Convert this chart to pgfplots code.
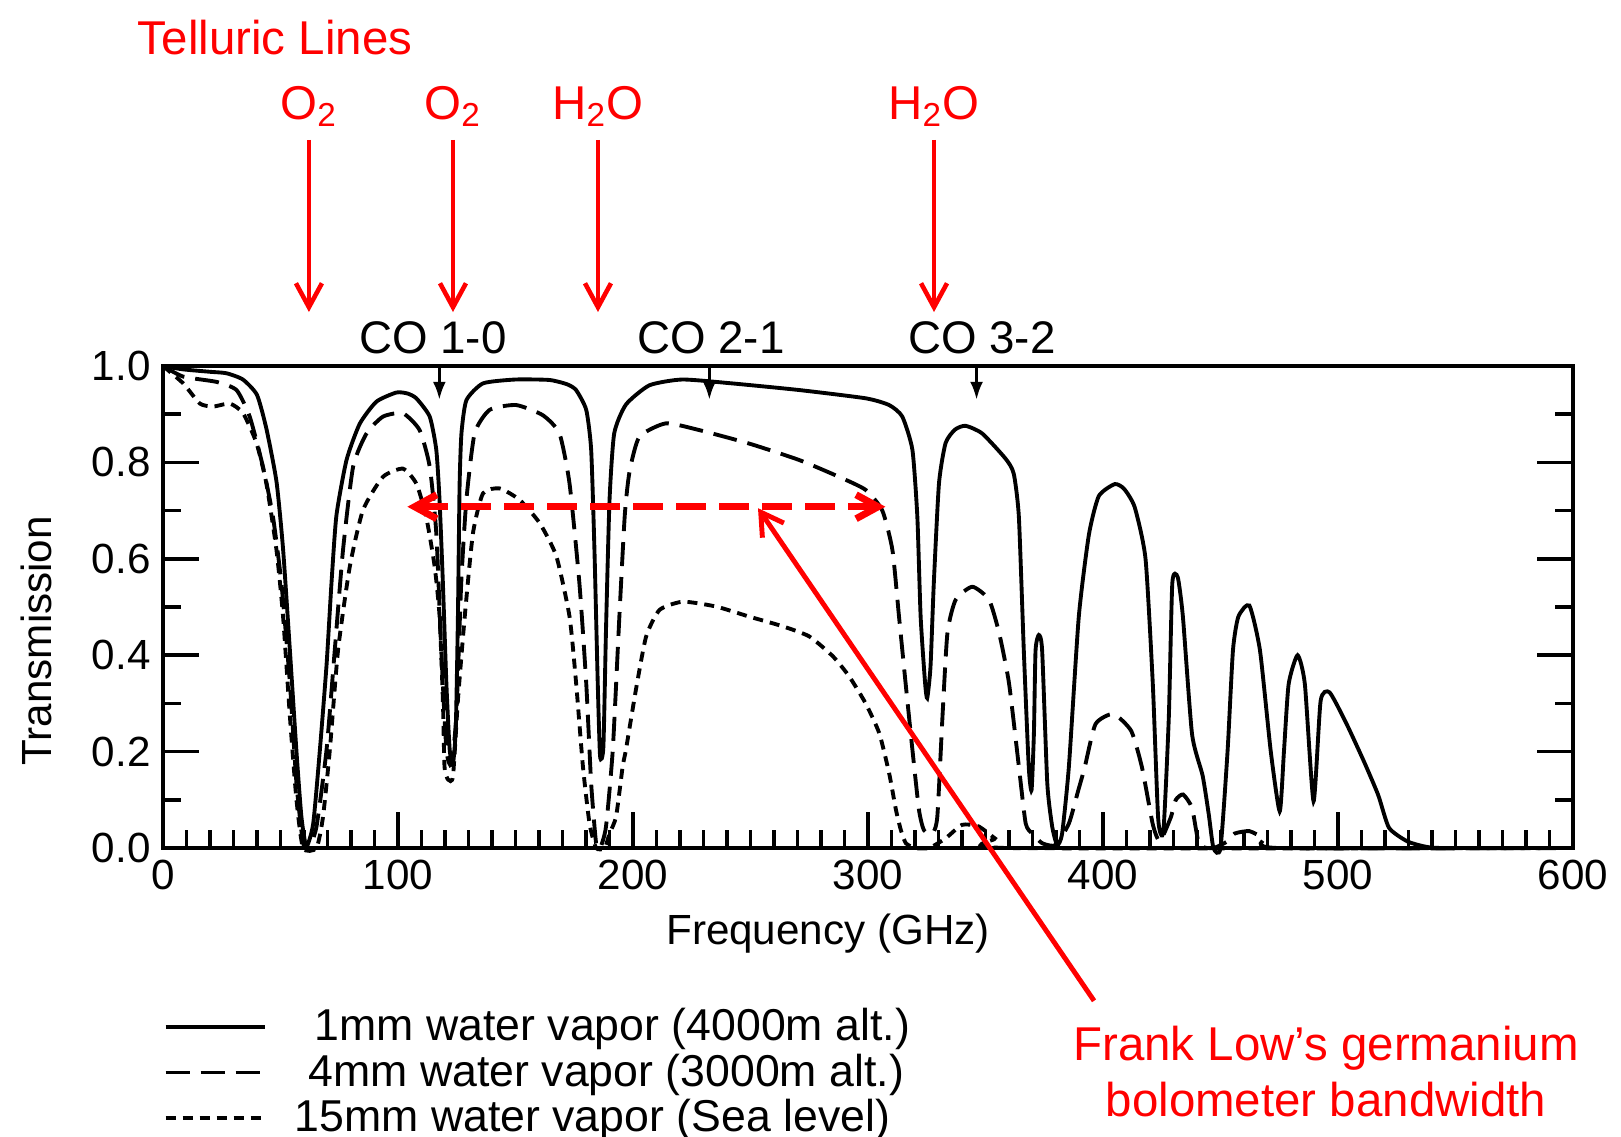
\documentclass[border=0pt]{standalone}
\usepackage{fontspec}
\setmainfont{Liberation Sans}
\usepackage{pgfplots}
\pgfplotsset{compat=1.18}
\usetikzlibrary{arrows.meta}
\definecolor{annred}{RGB}{255,0,0}

\begin{document}
\begin{tikzpicture}
\path[use as bounding box] (-1.63,-2.88) rectangle (14.58,8.48);
\begin{axis}[
  at={(0,0)}, anchor=south west,
  scale only axis, width=14.1cm, height=4.82cm,
  xmin=0, xmax=600, ymin=0, ymax=1,
  clip=false,
  xtick={0,100,...,600}, minor x tick num=9,
  ytick={0,0.2,0.4,0.6,0.8,1.0}, minor y tick num=1,
  xtick pos=left, yticklabel pos=left,
  major tick length=0.36cm, minor tick length=0.18cm,
  every tick/.style={line width=1pt, black},
  axis line style={line width=1.2pt},
  /pgf/number format/assume math mode=true,
  yticklabel style={/pgf/number format/.cd, fixed, fixed zerofill, precision=1},
  ticklabel style={font=\fontsize{12}{14}\selectfont},
  xlabel={Frequency (GHz)}, ylabel={Transmission},
  label style={font=\fontsize{12}{14}\selectfont},
  xlabel style={at={(axis description cs:0.4716,-0.178)}, anchor=center},
  ylabel style={at={(axis description cs:-0.09,0.43)}, anchor=center},
  legend style={at={(axis description cs:-0.0074,-0.302)}, anchor=north west,
    draw=none, fill=none, font=\fontsize{12.7}{15}\selectfont,
    row sep=-1.8pt, nodes={inner sep=2pt}},
  legend cell align=left,
  legend image code/.code={\draw[#1] (0cm,0cm) -- (0.99cm,0cm); \path (1.2cm,0cm);},
  smooth, tension=0.35,
]
% 1 mm water vapor
\addplot[black, line width=1.1pt] coordinates {
(0,1.0) (8.6,0.993) (20,0.988) (27,0.985) (34,0.972) (40,0.94) (44,0.87)
(48.3,0.76) (51.1,0.62) (54,0.41) (56.8,0.20) (58.9,0.065) (61,0.003)
(63.9,0.05) (66.7,0.20) (69.6,0.38) (71.7,0.55) (73.8,0.69) (78.1,0.805)
(83.7,0.88) (90.8,0.926) (99.3,0.945) (104,0.943) (107.8,0.933) (113.5,0.895)
(116.3,0.826) (117.7,0.72) (119.1,0.55) (120.6,0.34) (122,0.204) (123.4,0.175)
(124.6,0.25) (125.5,0.48) (126.2,0.75) (127,0.86) (129.1,0.929) (136.2,0.964)
(150,0.972) (164.5,0.971) (172,0.962) (175.8,0.95) (180.1,0.909) (182.2,0.826)
(183.6,0.618) (185,0.342) (186,0.19) (187.4,0.21) (188.5,0.45) (190,0.72)
(192,0.86) (197,0.92) (207,0.96) (221,0.972) (242,0.964) (271,0.95) (299,0.933)
(309,0.919) (314.6,0.895) (318.9,0.826) (321,0.687) (322.4,0.48) (324.3,0.342)
(325.2,0.311) (326.6,0.376) (328,0.549) (330.2,0.756) (333,0.84) (337,0.868)
(341.5,0.876) (348.6,0.86) (358.5,0.808) (362,0.777) (364.2,0.687) (366.3,0.41)
(368.4,0.169) (369.6,0.12) (370.6,0.238) (371.3,0.41) (372.7,0.442) (374.1,0.41)
(376.3,0.134) (378.4,0.044) (380.5,0.006) (382.6,0.03) (385.5,0.17) (389.7,0.48)
(394,0.65) (398.2,0.73) (405,0.755) (409,0.745) (413.5,0.707) (418.1,0.60)
(421.2,0.34) (423.5,0.06) (425.7,0.035) (428,0.27) (429.5,0.55) (431.8,0.562)
(434,0.48) (437.9,0.236) (442.4,0.15) (445,0.07) (447,0.0) (450,0.0) (453,0.2)
(455.3,0.41) (457.6,0.48) (462.3,0.503) (466.8,0.41) (471.4,0.2) (475.2,0.076)
(477,0.2) (479,0.34) (482.8,0.40) (485.9,0.34) (489.6,0.097) (492.6,0.305)
(496.4,0.323) (503.4,0.26) (511,0.18) (517.1,0.11) (521.7,0.042) (529.4,0.014)
(537,0.003) (545,0) (600,0)
};
\addlegendentry{\hspace*{2mm}1mm water vapor (4000m alt.)}
% 4 mm water vapor
\addplot[black, line width=1.1pt, dash pattern=on 2.4mm off 1.1mm] coordinates {
(0,1.0) (8.6,0.978) (22.8,0.967) (31.3,0.95) (36.9,0.895) (42.6,0.79) (46.8,0.687)
(50.4,0.549) (54,0.342) (56.8,0.134) (59.6,0.01) (62,0.0) (65.3,0.044) (69.6,0.204)
(73.1,0.411) (76.6,0.618) (80.9,0.791) (86.6,0.86) (93.6,0.895) (102.1,0.902)
(109.2,0.867) (113.5,0.791) (116.3,0.653) (118.4,0.411) (120.6,0.204) (122.7,0.173)
(124.8,0.273) (126.9,0.549) (129.1,0.722) (132.6,0.86) (139,0.909) (150.3,0.919)
(161.6,0.898) (168.7,0.86) (173,0.756) (177.2,0.549) (180.1,0.342) (182.2,0.134)
(184.3,0.01) (186,0.0) (188.5,0.044) (191.4,0.204) (194.2,0.48) (196.5,0.69)
(198.5,0.78) (202.7,0.853) (214,0.881) (228.2,0.867) (249.5,0.839) (270.7,0.805)
(287.7,0.77) (299,0.743) (306.1,0.70) (310.4,0.618) (313.2,0.48) (316,0.342)
(318.9,0.204) (321.7,0.079) (323.8,0.037) (327.4,0.03) (329.5,0.065) (331.7,0.273)
(333.8,0.446) (337.3,0.515) (344.4,0.542) (351.5,0.515) (355.8,0.446) (360,0.342)
(364.2,0.169) (367.1,0.051) (369.9,0.03) (374.1,0.01) (379.8,0.006) (385.5,0.051)
(389.5,0.12) (392.2,0.167) (396.8,0.257) (404.4,0.278) (412,0.243) (416.6,0.167)
(421.2,0.049) (424.2,0.014) (428.8,0.063) (431,0.1) (434.1,0.111) (437.9,0.083)
(441,0.007) (447,0.0) (453,0.014) (456,0.03) (462.3,0.035) (468.4,0.02) (474.5,0.0)
(600,0)
};
\addlegendentry{\hspace*{1.4mm}4mm water vapor (3000m alt.)}
% 15 mm water vapor
\addplot[black, line width=1.1pt, dash pattern=on 1mm off 0.7mm] coordinates {
(0,1.0) (8.6,0.964) (15.7,0.922) (21.4,0.916) (28.5,0.922) (34.1,0.902) (39.8,0.84)
(44,0.756) (48.3,0.618) (51.1,0.48) (54,0.273) (56.8,0.1) (59.6,0.0) (65.3,0.0)
(68.1,0.065) (71,0.204) (74.5,0.411) (79.5,0.584) (85.1,0.701) (93.6,0.77)
(102.1,0.787) (107.8,0.756) (112,0.687) (115.6,0.584) (117.7,0.48) (119.1,0.307)
(119.8,0.169) (121.3,0.142) (123.4,0.149) (125.5,0.307) (128.4,0.48) (131.9,0.653)
(136.2,0.736) (143.3,0.746) (151.8,0.722) (160.3,0.674) (167.4,0.605) (173,0.48)
(175.8,0.342) (178.7,0.169) (181.5,0.051) (184.3,0.0) (188,0.0) (190,0.03)
(192.8,0.065) (195.6,0.169) (197,0.204) (201.3,0.33) (205.6,0.439) (211.3,0.494)
(221.2,0.511) (235.3,0.501) (249.5,0.48) (263.7,0.46) (275,0.439) (285,0.398)
(292,0.356) (299,0.3) (304.8,0.238) (309,0.155) (311.9,0.079) (314,0.037)
(316.1,0.01) (320,0.0) (326,0.0) (333,0.02) (340,0.048) (347,0.045) (354,0.02)
(360,0.0) (600,0)
};
\addlegendentry{15mm water vapor (Sea level)}

% CO line markers
\draw[line width=0.8pt, -{Latex[length=1.8mm,width=1.3mm]}] (axis cs:117.6,1) -- (axis cs:117.6,0.93);
\draw[line width=0.8pt, -{Latex[length=1.8mm,width=1.3mm]}] (axis cs:232.5,1) -- (axis cs:232.5,0.93);
\draw[line width=0.8pt, -{Latex[length=1.8mm,width=1.3mm]}] (axis cs:346.2,1) -- (axis cs:346.2,0.93);
\node[font=\fontsize{13}{15}\selectfont, anchor=base] at (axis cs:114.9,1.025) {CO 1-0};
\node[font=\fontsize{13}{15}\selectfont, anchor=base] at (axis cs:233.2,1.025) {CO 2-1};
\node[font=\fontsize{13}{15}\selectfont, anchor=base] at (axis cs:348.5,1.025) {CO 3-2};

% telluric lines
\node[annred, font=\fontsize{13.5}{16}\selectfont, anchor=base] at (axis cs:47.7,1.647) {Telluric Lines};
\node[annred, font=\fontsize{13.5}{16}\selectfont, anchor=base] at (axis cs:62.1,1.512) {O\textsubscript{2}};
\node[annred, font=\fontsize{13.5}{16}\selectfont, anchor=base] at (axis cs:123.4,1.512) {O\textsubscript{2}};
\node[annred, font=\fontsize{13.5}{16}\selectfont, anchor=base] at (axis cs:185.1,1.512) {H\textsubscript{2}O};
\node[annred, font=\fontsize{13.5}{16}\selectfont, anchor=base] at (axis cs:328.1,1.512) {H\textsubscript{2}O};
\draw[annred, line width=1.3pt, -{Straight Barb[length=2.4mm,width=2.6mm]}]
  (axis cs:62.1,1.469) -- (axis cs:62.1,1.112);
\draw[annred, line width=1.3pt, -{Straight Barb[length=2.4mm,width=2.6mm]}]
  (axis cs:123.4,1.469) -- (axis cs:123.4,1.112);
\draw[annred, line width=1.3pt, -{Straight Barb[length=2.4mm,width=2.6mm]}]
  (axis cs:185.1,1.469) -- (axis cs:185.1,1.112);
\draw[annred, line width=1.3pt, -{Straight Barb[length=2.4mm,width=2.6mm]}]
  (axis cs:328.1,1.469) -- (axis cs:328.1,1.112);

% bolometer bandwidth
\draw[annred, line width=2pt, dash pattern=on 3mm off 1.3mm,
  {Straight Barb[length=2.2mm,width=2.4mm]}-{Straight Barb[length=2.2mm,width=2.4mm]}]
  (axis cs:104,0.708) -- (axis cs:307.4,0.708);
\draw[annred, line width=1.4pt, {Straight Barb[length=2.2mm,width=2.6mm]}-]
  (axis cs:253.2,0.705) -- (axis cs:396.2,-0.317);
\node[annred, font=\fontsize{13.5}{16}\selectfont, anchor=base] at (axis cs:494.9,-0.44) {Frank Low’s germanium};
\node[annred, font=\fontsize{13.5}{16}\selectfont, anchor=base] at (axis cs:494.9,-0.558) {bolometer bandwidth};
\end{axis}
\end{tikzpicture}
\end{document}
